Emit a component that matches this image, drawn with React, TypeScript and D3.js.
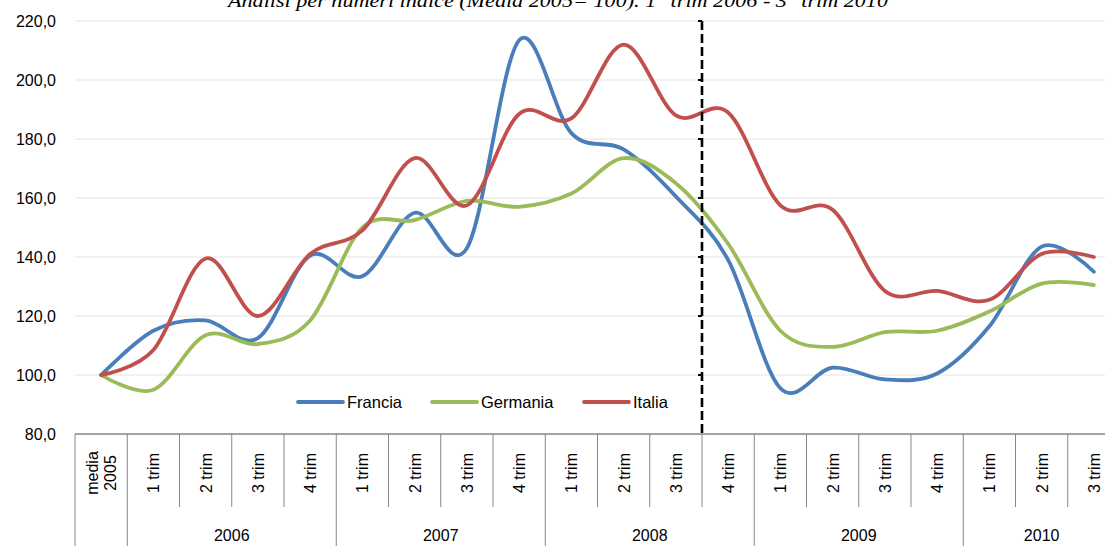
import React from "react";
import * as d3 from "d3";

const categories = [
  "media|2005",
  "1 trim", "2 trim", "3 trim", "4 trim",
  "1 trim", "2 trim", "3 trim", "4 trim",
  "1 trim", "2 trim", "3 trim", "4 trim",
  "1 trim", "2 trim", "3 trim", "4 trim",
  "1 trim", "2 trim", "3 trim",
];
const years = ["2006", "2007", "2008", "2009", "2010"];
const yearCounts = [4, 4, 4, 4, 3];

const francia = [100, 115, 118.5, 112.5, 140.5, 133.5, 155, 143, 213.5, 182, 176.5, 160.5, 139, 95.5, 102.5, 98.5, 100.5, 116.5, 143.5, 135];
const germania = [100, 95, 113.5, 110.5, 118.5, 150, 152.5, 159, 157, 161.5, 173.5, 165, 144.5, 115, 109.5, 114.5, 115, 121.5, 131, 130.5];
const italia = [100, 108.5, 139.5, 120, 141, 149, 173.5, 157.5, 188.5, 187, 212, 188, 189, 157.5, 156, 128.5, 128.5, 125.5, 141, 140];

const yTicks = [80, 100, 120, 140, 160, 180, 200, 220];
const seriesNames = ["Francia", "Germania", "Italia"];
const seriesColors = ["#4a7ebb", "#9bbb59", "#c0504d"];
const dividerIndex = 12; // between 3 trim 2008 and 4 trim 2008

const FONT = "'Liberation Sans', Arial, sans-serif";

export default function App() {
  const W = 1105;
  const H = 546;
  const left = 75;
  const right = 1120;
  const axisY = 434;
  const topY = 21;

  const idx = categories.map((_, i) => String(i));
  const x = d3.scaleBand<string>().domain(idx).range([left, right]).padding(0);
  const bw = x.bandwidth();
  const cx = (i: number) => (x(String(i)) as number) + bw / 2;
  const y = d3.scaleLinear().domain([80, 220]).range([axisY, topY]);

  const line = d3
    .line<number>()
    .x((_, i) => cx(i))
    .y((d) => y(d))
    .curve(d3.curveCatmullRom.alpha(0));

  const series = [francia, germania, italia];

  // year boundaries
  const yearStart: number[] = [];
  let acc = 1;
  yearCounts.forEach((c) => {
    yearStart.push(acc);
    acc += c;
  });
  const longBounds = new Set<number>([0, 1, ...yearStart, acc]);

  const boundX = (k: number) => left + bw * k;
  const divX = boundX(dividerIndex);

  const legendItems = [
    { x: 298, name: seriesNames[0], color: seriesColors[0] },
    { x: 432, name: seriesNames[1], color: seriesColors[1] },
    { x: 584, name: seriesNames[2], color: seriesColors[2] },
  ];
  const legendY = 402;

  return (
    <svg
      width={W}
      height={H}
      style={{ position: "absolute", left: 0, top: 0, background: "#fff" }}
      fontFamily={FONT}
    >
      <rect x={0} y={0} width={W} height={H} fill="#fff" />
      {/* title (clipped at top) */}
      <text
        x={558}
        y={7}
        textAnchor="middle"
        fontFamily="'Liberation Serif', 'Times New Roman', serif"
        fontStyle="italic"
        fontSize={18}
        textLength={660}
        lengthAdjust="spacingAndGlyphs"
        fill="#000"
      >
        Analisi per numeri indice (Media 2005= 100). 1° trim 2006 - 3° trim 2010
      </text>

      {/* gridlines */}
      {yTicks.slice(1).map((t) => (
        <line key={t} x1={left} x2={right} y1={y(t)} y2={y(t)} stroke="#e4e4e4" strokeWidth={1} />
      ))}

      {/* y tick labels */}
      {yTicks.map((t) => (
        <text key={t} x={56} y={y(t) + 5.5} textAnchor="end" fontSize={16} fill="#000">
          {d3.format(".1f")(t).replace(".", ",")}
        </text>
      ))}

      {/* x axis line */}
      <line x1={left} x2={right} y1={axisY} y2={axisY} stroke="#868686" strokeWidth={1.5} />

      {/* category separators */}
      {d3.range(0, categories.length + 1).map((k) => (
        <line
          key={k}
          x1={boundX(k)}
          x2={boundX(k)}
          y1={axisY}
          y2={longBounds.has(k) ? H : 507}
          stroke="#868686"
          strokeWidth={1}
        />
      ))}

      {/* category labels */}
      {categories.map((c, i) => {
        const parts = c.split("|");
        const px = cx(i);
        const py = 473;
        if (parts.length === 2) {
          return (
            <g key={i} transform={`translate(${px},${py}) rotate(-90)`}>
              <text x={0} y={-3} textAnchor="middle" fontSize={16} fill="#000">
                {parts[0]}
              </text>
              <text x={0} y={15} textAnchor="middle" fontSize={16} fill="#000">
                {parts[1]}
              </text>
            </g>
          );
        }
        return (
          <text
            key={i}
            transform={`translate(${px + 6},${py}) rotate(-90)`}
            textAnchor="middle"
            fontSize={16}
            fill="#000"
          >
            {c}
          </text>
        );
      })}

      {/* year labels */}
      {years.map((yr, j) => {
        const s = yearStart[j];
        const e = s + yearCounts[j];
        const mx = (boundX(s) + boundX(e)) / 2;
        return (
          <text key={yr} x={mx} y={541} textAnchor="middle" fontSize={16} fill="#000">
            {yr}
          </text>
        );
      })}

      {/* series */}
      {series.map((s, i) => (
        <path
          key={i}
          d={line(s) as string}
          fill="none"
          stroke={seriesColors[i]}
          strokeWidth={3.8}
          strokeLinecap="round"
          strokeLinejoin="round"
        />
      ))}

      {/* dashed divider */}
      <line x1={divX} x2={divX} y1={topY} y2={axisY} stroke="#000" strokeWidth={2.6} strokeDasharray="9,4" />
      {yTicks.slice(1).map((t) => (
        <line key={t} x1={divX - 4} x2={divX} y1={y(t)} y2={y(t)} stroke="#000" strokeWidth={2} />
      ))}

      {/* legend */}
      {legendItems.map((it) => (
        <g key={it.name}>
          <line
            x1={it.x}
            x2={it.x + 45}
            y1={legendY}
            y2={legendY}
            stroke={it.color}
            strokeWidth={3.8}
            strokeLinecap="round"
          />
          <text x={it.x + 49} y={legendY + 6} fontSize={16.5} fill="#000">
            {it.name}
          </text>
        </g>
      ))}
    </svg>
  );
}
